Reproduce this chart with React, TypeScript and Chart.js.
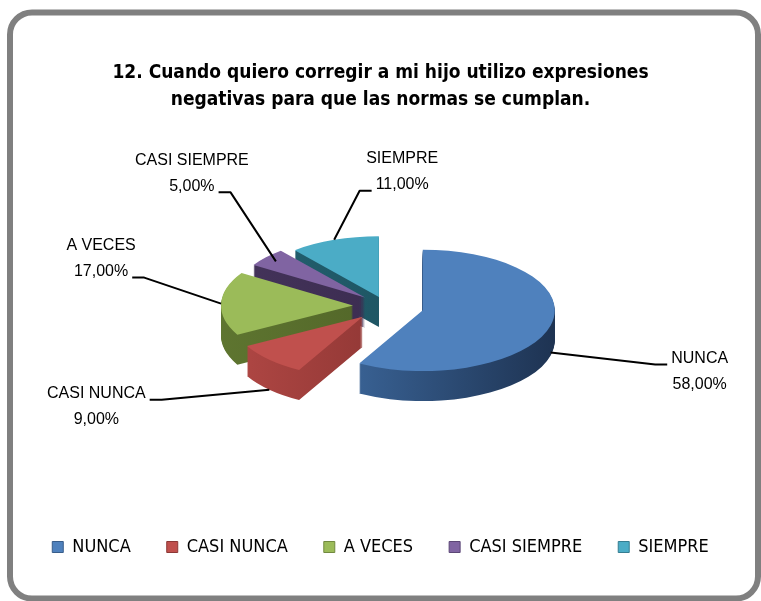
import React, { useEffect, useRef } from 'react';
import { Chart, registerables } from 'chart.js';

Chart.register(...registerables);

// ---- data ----
const categories = ['NUNCA', 'CASI NUNCA', 'A VECES', 'CASI SIEMPRE', 'SIEMPRE'];
const percentages = [58, 9, 17, 5, 11];
const titleLines = [
  '12. Cuando quiero corregir a mi hijo utilizo expresiones',
  'negativas para que las normas se cumplan.',
];

// ---- styles ----
const NARROW = "'Liberation Sans Narrow', 'DejaVu Sans Condensed', 'Liberation Sans', sans-serif";
const SANS = "'Liberation Sans', Arial, sans-serif";
const topColors = ['#4F81BD', '#C0504D', '#9BBB59', '#8064A2', '#4BACC6'];
const borderColors = ['#385D8A', '#8C3836', '#71893F', '#5C4776', '#357D91'];
const sideLeft = ['#4170A8', '#B04744', '#5E7530', '#44335A', '#22606F'];
const sideRight = ['#1E3352', '#7A2C2A', '#4A5C24', '#35284A', '#1C4D5A'];

const fmt = (v: number) => v.toFixed(2).replace('.', ',') + '%';

const framePlugin = {
  id: 'frame',
  beforeDraw(chart: any) {
    const ctx = chart.ctx;
    ctx.save();
    ctx.fillStyle = '#FFFFFF';
    ctx.fillRect(0, 0, chart.width, chart.height);
    ctx.strokeStyle = '#808080';
    ctx.lineWidth = 6;
    ctx.beginPath();
    (ctx as any).roundRect(10, 12.5, 748, 586, 22);
    ctx.stroke();
    ctx.restore();
  },
};

const pie3dPlugin = {
  id: 'pie3d',
  beforeDatasetsDraw(chart: any, _args: any, opts: any) {
    const ctx = chart.ctx;
    const meta = chart.getDatasetMeta(0);
    const { center, tilt, depth, explode } = opts;
    const items = meta.data.map((arc: any, i: number) => {
      const a = (arc.startAngle + arc.endAngle) / 2;
      const ex = Math.cos(a) * explode[i];
      const ey = Math.sin(a) * explode[i];
      return { arc, i, a, ex, ey, sortY: Math.sin(a) * (explode[i] + arc.outerRadius * 0.5) };
    });
    items.sort((u: any, v: any) => u.sortY - v.sortY);
    for (const s of items) {
      const arc = s.arc;
      const orig = arc.options;
      for (let k = depth; k >= 1; k--) {
        ctx.save();
        ctx.translate(center.x, center.y + k);
        ctx.scale(1, tilt);
        ctx.translate(s.ex - arc.x, s.ey - arc.y);
        const g = ctx.createLinearGradient(arc.x - arc.outerRadius, 0, arc.x + arc.outerRadius, 0);
        g.addColorStop(0, opts.sideLeft[s.i]);
        g.addColorStop(1, opts.sideRight[s.i]);
        arc.options = Object.assign({}, orig, { backgroundColor: g, borderWidth: 0 });
        arc.draw(ctx);
        ctx.restore();
      }
      ctx.save();
      ctx.translate(center.x, center.y);
      ctx.scale(1, tilt);
      ctx.translate(s.ex - arc.x, s.ey - arc.y);
      arc.options = Object.assign({}, orig, { borderWidth: 0 });
      arc.draw(ctx);
      ctx.restore();
      arc.options = orig;
    }
    return false;
  },
  afterDraw(chart: any, _args: any, opts: any) {
    const ctx = chart.ctx;
    const meta = chart.getDatasetMeta(0);
    const { center, tilt, explode, anchorRadius, anchorDrop, labelOffset, attach, labelFont, lineHeight } = opts;
    ctx.save();
    ctx.font = labelFont;
    ctx.fillStyle = '#000';
    ctx.strokeStyle = '#000';
    ctx.lineWidth = 2;
    ctx.lineJoin = 'round';
    ctx.textAlign = 'center';
    ctx.textBaseline = 'middle';
    meta.data.forEach((arc: any, i: number) => {
      const a = (arc.startAngle + arc.endAngle) / 2;
      const rr = explode[i] + arc.outerRadius * anchorRadius[i];
      const ax = center.x + Math.cos(a) * rr;
      const ay = center.y + Math.sin(a) * rr * tilt + anchorDrop[i];
      const cx = ax + labelOffset[i][0];
      const cy = ay + labelOffset[i][1];
      const lines = [chart.data.labels[i], fmt(chart.data.datasets[0].data[i])];
      const ys = [cy - lineHeight / 2, cy + lineHeight / 2];
      lines.forEach((t: string, j: number) => ctx.fillText(t, cx, ys[j]));
      const [side, li] = attach[i];
      const w = ctx.measureText(lines[li]).width;
      const endX = side === 'left' ? cx - w / 2 - 4 : cx + w / 2 + 4;
      const endY = ys[li] + 6;
      const elbowX = side === 'left' ? endX - 12 : endX + 12;
      ctx.beginPath();
      ctx.moveTo(ax, ay);
      ctx.lineTo(elbowX, endY);
      ctx.lineTo(endX, endY);
      ctx.stroke();
    });
    ctx.restore();
  },
};

export default function App() {
  const ref = useRef<HTMLCanvasElement | null>(null);
  useEffect(() => {
    if (!ref.current) return;
    const chart = new Chart(ref.current, {
      type: 'pie',
      data: {
        labels: categories,
        datasets: [
          {
            data: percentages,
            backgroundColor: topColors,
            borderColor: borderColors,
            borderWidth: 1,
          },
        ],
      },
      options: {
        responsive: false,
        animation: false,
        radius: 132,
        layout: { padding: { left: 0, right: 0, top: 0, bottom: 35 } },
        plugins: {
          title: {
            display: true,
            text: titleLines,
            color: '#000',
            font: { family: NARROW, size: 19, weight: 'bold', lineHeight: 1.45 },
            padding: { top: 59, bottom: 10 },
          },
          legend: {
            position: 'bottom',
            labels: {
              boxWidth: 11,
              boxHeight: 11,
              color: '#000',
              font: { family: NARROW, size: 18 },
              padding: 36,
            },
          },
          tooltip: { enabled: false },
          pie3d: {
            center: { x: 386, y: 306 },
            tilt: 0.46,
            depth: 30,
            explode: [38, 33, 33, 28, 21],
            sideLeft,
            sideRight,
            anchorRadius: [1, 1, 1, 0.9, 1],
            anchorDrop: [27, 30, 0, 0, 0],
            labelOffset: [[149, 19], [-173, 17], [-120, -45], [-84, -88], [68, -68]],
            attach: [['left', 0], ['right', 0], ['right', 1], ['right', 1], ['left', 1]],
            labelFont: `16px ${SANS}`,
            lineHeight: 26,
          },
        } as any,
      } as any,
      plugins: [framePlugin, pie3dPlugin],
    });
    return () => chart.destroy();
  }, []);
  return (
    <div style={{ position: 'absolute', left: 0, top: 0, width: 761, height: 601 }}>
      <canvas ref={ref} width={761} height={601} style={{ display: 'block' }} />
    </div>
  );
}
